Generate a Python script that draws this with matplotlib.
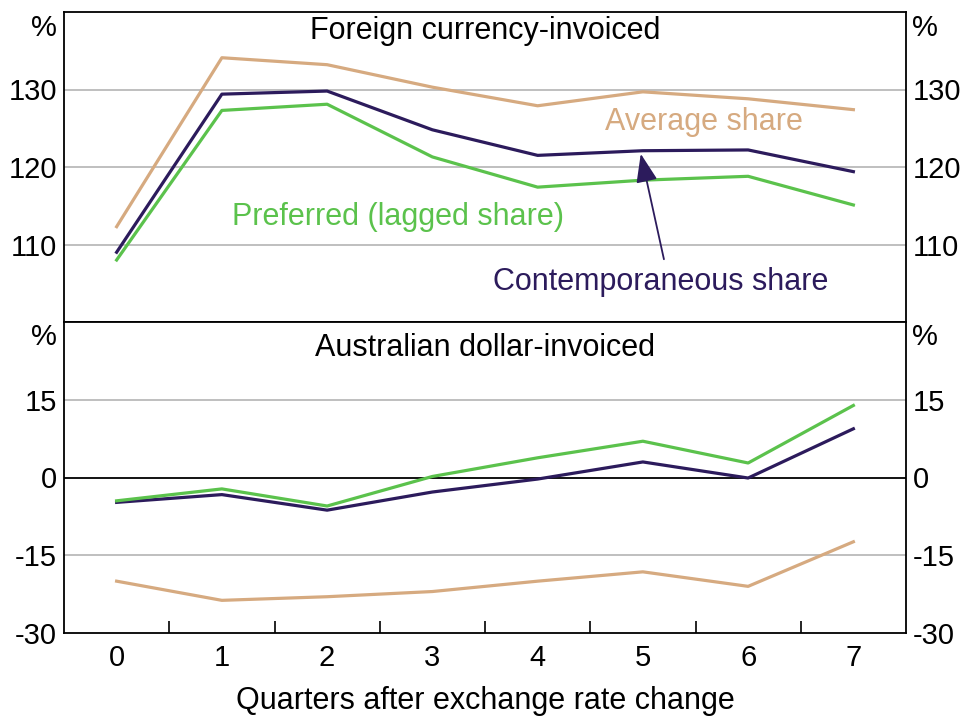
import numpy as np
import matplotlib.pyplot as plt
from matplotlib.ticker import FixedLocator

plt.rcParams['font.family'] = ['Liberation Sans', 'DejaVu Sans']
plt.rcParams['axes.unicode_minus'] = False

quarters = [0, 1, 2, 3, 4, 5, 6, 7]

# Foreign currency-invoiced
fc_average = [112.3, 134.1, 133.2, 130.3, 127.9, 129.7, 128.8, 127.4]
fc_contemp = [109.0, 129.4, 129.8, 124.8, 121.5, 122.1, 122.2, 119.4]
fc_preferred = [108.0, 127.3, 128.1, 121.3, 117.4, 118.3, 118.8, 115.1]

# Australian dollar-invoiced
aud_average = [-20.0, -23.7, -23.0, -22.0, -20.0, -18.2, -21.0, -12.4]
aud_contemp = [-4.8, -3.3, -6.3, -2.8, -0.3, 3.0, -0.1, 9.4]
aud_preferred = [-4.5, -2.2, -5.5, 0.2, 3.8, 7.0, 2.8, 13.9]

top_ticks = [110, 120, 130]
bot_ticks = [-30, -15, 0, 15]

c_avg = '#D6AA80'
c_con = '#2C1B5C'
c_pref = '#5BC24C'
c_grid = '#B4B4B4'
fs = 22
tfs = 21
lw = 2.3

fig = plt.figure(figsize=(9.63, 7.18), dpi=100)
ax1 = fig.add_axes([64 / 963, 1 - 322 / 718, 842 / 963, 310 / 718])
ax2 = fig.add_axes([64 / 963, 1 - 633 / 718, 842 / 963, 311 / 718])

for ax in (ax1, ax2):
    ax.set_xlim(-0.5, 7.5)
    for s in ax.spines.values():
        s.set_linewidth(1.3)
    ax.tick_params(axis='y', which='both', length=0, labelsize=tfs,
                   left=False, right=False, labelleft=True, labelright=True, pad=5)

# top panel
ax1.set_ylim(100, 140)
ax1.set_yticks(top_ticks)
for t in top_ticks:
    ax1.axhline(t, color=c_grid, lw=1.2, zorder=1)
ax1.plot(quarters, fc_average, color=c_avg, lw=lw, zorder=3)
ax1.plot(quarters, fc_contemp, color=c_con, lw=lw, zorder=3)
ax1.plot(quarters, fc_preferred, color=c_pref, lw=lw, zorder=3)
ax1.set_xticks([])
ax1.text(0.5, 0.94, 'Foreign currency-invoiced', transform=ax1.transAxes,
         ha='center', va='center', fontsize=fs)
ax1.text(5.58, 125.8, 'Average share', color=c_avg, ha='center', va='center', fontsize=fs)
ax1.text(2.67, 113.6, 'Preferred (lagged share)', color=c_pref, ha='center', va='center', fontsize=fs)
ax1.text(5.17, 105.1, 'Contemporaneous share', color=c_con, ha='center', va='center', fontsize=fs)
ax1.annotate('', xy=(4.98, 121.7), xytext=(5.2, 108.1),
             arrowprops=dict(arrowstyle='-|>,head_length=0.8,head_width=0.3', color=c_con, lw=1.3,
                             mutation_scale=22, shrinkA=0, shrinkB=0))

# bottom panel
ax2.set_ylim(-30, 30)
ax2.set_yticks(bot_ticks)
for t in [-15, 15]:
    ax2.axhline(t, color=c_grid, lw=1.2, zorder=1)
ax2.axhline(0, color='black', lw=1.3, zorder=2)
ax2.plot(quarters, aud_average, color=c_avg, lw=lw, zorder=3)
ax2.plot(quarters, aud_contemp, color=c_con, lw=lw, zorder=3)
ax2.plot(quarters, aud_preferred, color=c_pref, lw=lw, zorder=3)
ax2.set_xticks(quarters)
ax2.xaxis.set_minor_locator(FixedLocator(np.arange(0.5, 7.0, 1.0)))
ax2.tick_params(axis='x', which='major', length=0, labelsize=tfs, pad=8)
ax2.tick_params(axis='x', which='minor', direction='in', length=9, width=1.2)
ax2.text(0.5, 0.918, 'Australian dollar-invoiced', transform=ax2.transAxes,
         ha='center', va='center', fontsize=fs)
ax2.set_xlabel('Quarters after exchange rate change', fontsize=fs, labelpad=10)

# % unit labels
for y in (28, 337):
    fig.text(44 / 963, 1 - y / 718, '%', ha='center', va='center', fontsize=tfs)
    fig.text(925 / 963, 1 - y / 718, '%', ha='center', va='center', fontsize=tfs)

fig.savefig('out.png', dpi=100)
